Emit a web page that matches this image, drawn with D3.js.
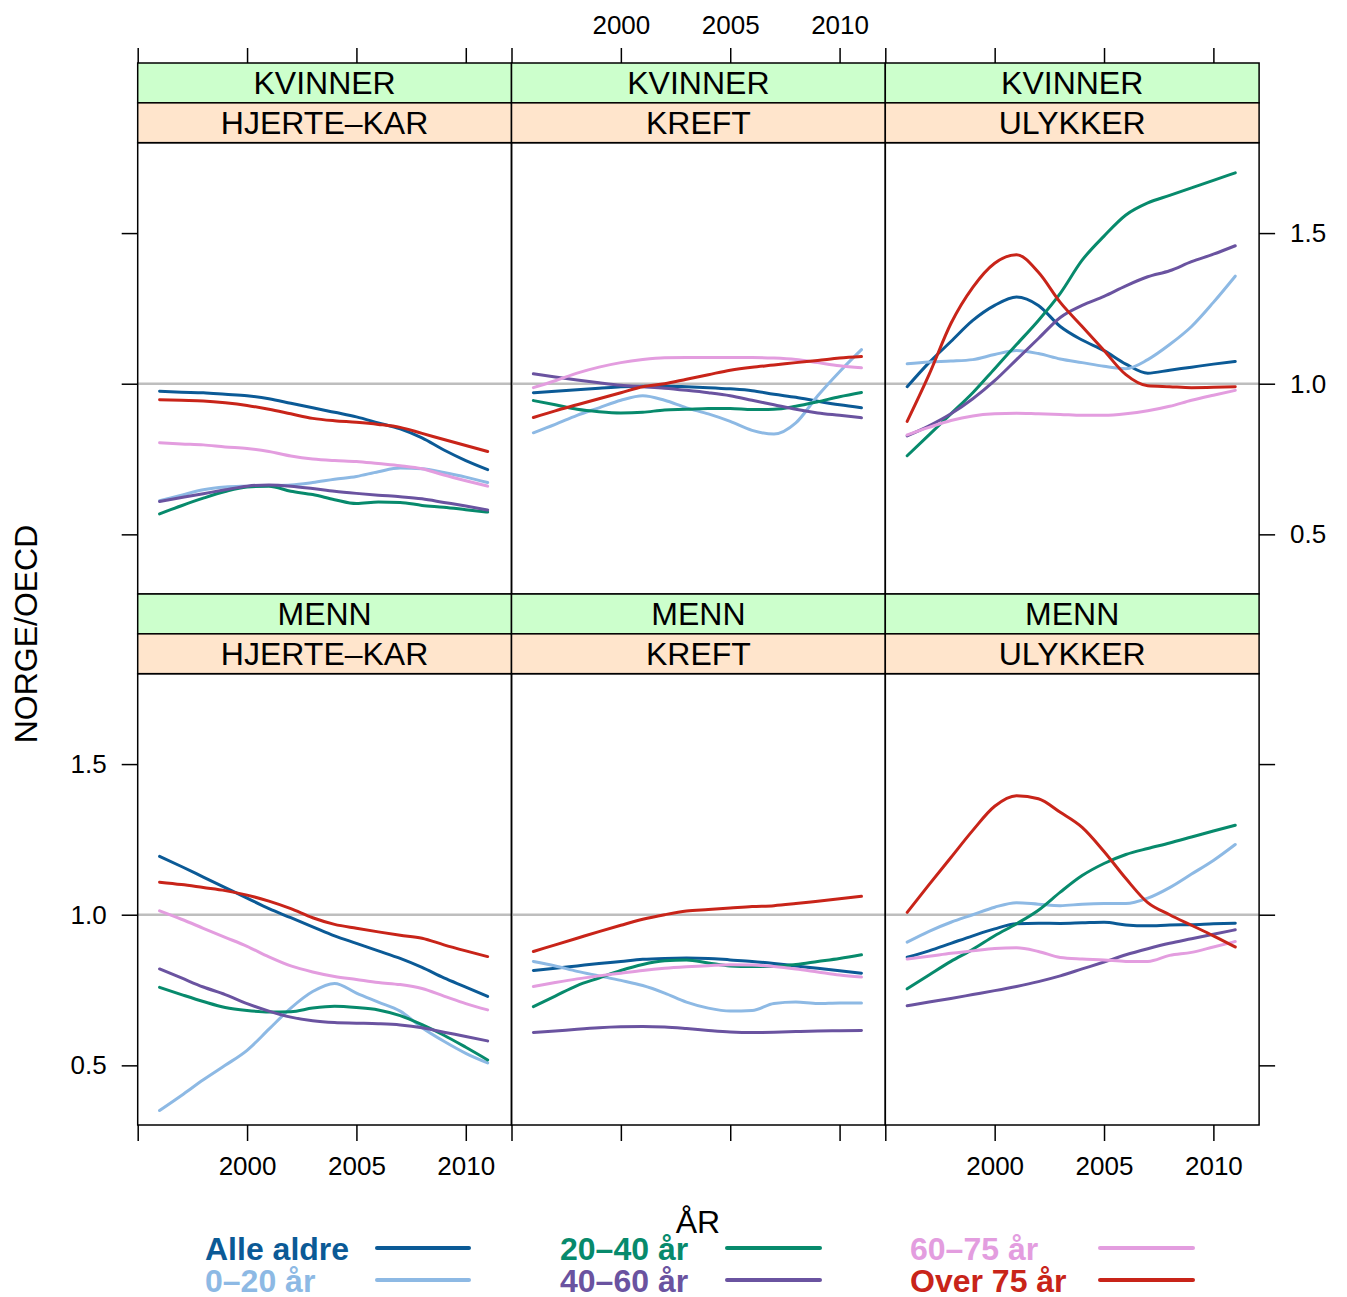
<!DOCTYPE html>
<html><head><meta charset="utf-8">
<script src="https://cdn.jsdelivr.net/npm/d3@7"></script>
<style>body{margin:0;background:#fff} text{font-family:"Liberation Sans",Arial,Helvetica,sans-serif}</style>
</head><body><svg id="c" width="1347" height="1297"></svg>
<script>
const years = [1996,1997,1998,1999,2000,2001,2002,2003,2004,2005,2006,2007,2008,2009,2010,2011];
const seriesNames = ["Alle aldre","0–20 år","20–40 år","40–60 år","60–75 år","Over 75 år"];
const seriesColors = ["#0b5a96","#8db9e4","#078a6c","#6a53a0","#e39ddf","#c82419"];
const sexLabels = ["KVINNER","MENN"];
const causeLabels = ["HJERTE–KAR","KREFT","ULYKKER"];
const xTicks = [1995,2000,2005,2010];
const xTickLabels = ["","2000","2005","2010"];
const yTicks = [0.5,1.0,1.5];
const yTickLabels = ["0.5","1.0","1.5"];
const refValue = 1.0;

// order of series in each panel: Alle aldre, 0–20, 20–40, 40–60, 60–75, Over 75
const kvinnerHjerteKar = [
  [0.975,0.972,0.970,0.965,0.960,0.950,0.935,0.920,0.905,0.890,0.870,0.850,0.820,0.780,0.745,0.715],
  [0.612,0.630,0.648,0.657,0.660,0.662,0.664,0.672,0.683,0.692,0.708,0.720,0.718,0.705,0.690,0.672],
  [0.568,0.595,0.620,0.642,0.657,0.660,0.643,0.632,0.615,0.602,0.607,0.606,0.596,0.590,0.582,0.574],
  [0.609,0.622,0.635,0.648,0.660,0.664,0.660,0.652,0.643,0.636,0.630,0.625,0.618,0.606,0.594,0.581],
  [0.804,0.800,0.797,0.790,0.785,0.775,0.760,0.750,0.745,0.742,0.735,0.728,0.718,0.697,0.678,0.660],
  [0.947,0.945,0.943,0.937,0.928,0.915,0.900,0.885,0.877,0.872,0.865,0.855,0.835,0.815,0.795,0.775]
];
const kvinnerKreft = [
  [0.970,0.975,0.980,0.985,0.990,0.992,0.992,0.990,0.987,0.983,0.977,0.965,0.955,0.942,0.930,0.920],
  [0.837,0.865,0.895,0.920,0.945,0.960,0.945,0.920,0.900,0.875,0.845,0.833,0.870,0.960,1.040,1.113],
  [0.944,0.930,0.915,0.907,0.903,0.905,0.913,0.915,0.918,0.918,0.914,0.915,0.925,0.940,0.957,0.971],
  [1.033,1.022,1.012,1.003,0.995,0.990,0.985,0.978,0.970,0.960,0.945,0.930,0.915,0.903,0.895,0.887],
  [0.987,1.010,1.035,1.055,1.070,1.080,1.086,1.087,1.087,1.087,1.087,1.085,1.080,1.070,1.060,1.053],
  [0.888,0.910,0.930,0.950,0.970,0.990,1.000,1.015,1.030,1.045,1.055,1.062,1.070,1.077,1.085,1.090]
];
const kvinnerUlykker = [
  [0.990,1.070,1.140,1.210,1.260,1.288,1.260,1.190,1.145,1.110,1.065,1.035,1.045,1.055,1.065,1.074],
  [1.066,1.072,1.075,1.080,1.097,1.110,1.100,1.082,1.070,1.058,1.050,1.080,1.130,1.190,1.270,1.357],
  [0.761,0.830,0.900,0.970,1.050,1.130,1.210,1.300,1.410,1.490,1.560,1.600,1.625,1.650,1.675,1.700],
  [0.827,0.860,0.900,0.950,1.010,1.080,1.150,1.220,1.260,1.290,1.325,1.355,1.375,1.405,1.430,1.458],
  [0.830,0.855,0.878,0.893,0.900,0.902,0.900,0.898,0.895,0.895,0.900,0.910,0.925,0.945,0.962,0.978],
  [0.875,1.030,1.200,1.320,1.400,1.428,1.370,1.270,1.190,1.110,1.030,0.993,0.990,0.987,0.988,0.990]
];
const mennHjerteKar = [
  [1.194,1.160,1.125,1.090,1.055,1.020,0.990,0.960,0.930,0.905,0.880,0.855,0.825,0.790,0.760,0.729],
  [0.350,0.400,0.452,0.500,0.550,0.620,0.690,0.745,0.772,0.740,0.710,0.680,0.625,0.580,0.540,0.508],
  [0.759,0.735,0.712,0.692,0.682,0.677,0.678,0.690,0.696,0.692,0.684,0.665,0.635,0.600,0.560,0.518],
  [0.820,0.790,0.760,0.735,0.705,0.680,0.660,0.648,0.642,0.640,0.638,0.634,0.625,0.610,0.596,0.581],
  [1.013,0.985,0.955,0.925,0.895,0.860,0.830,0.810,0.795,0.785,0.775,0.768,0.755,0.730,0.705,0.684],
  [1.108,1.100,1.090,1.080,1.065,1.045,1.020,0.990,0.968,0.955,0.943,0.932,0.922,0.900,0.880,0.861]
];
const mennKreft = [
  [0.815,0.822,0.830,0.838,0.845,0.852,0.855,0.856,0.855,0.850,0.845,0.838,0.830,0.822,0.814,0.806],
  [0.845,0.830,0.812,0.797,0.782,0.765,0.740,0.710,0.690,0.680,0.682,0.705,0.710,0.705,0.707,0.707],
  [0.695,0.730,0.765,0.790,0.815,0.835,0.847,0.850,0.840,0.830,0.828,0.828,0.835,0.845,0.855,0.867],
  [0.609,0.614,0.620,0.625,0.628,0.629,0.627,0.622,0.616,0.611,0.609,0.610,0.612,0.614,0.615,0.616],
  [0.762,0.775,0.787,0.797,0.806,0.815,0.822,0.827,0.831,0.834,0.833,0.828,0.820,0.810,0.800,0.793],
  [0.878,0.900,0.922,0.944,0.965,0.985,1.000,1.012,1.017,1.022,1.027,1.030,1.037,1.045,1.053,1.061]
];
const mennUlykker = [
  [0.859,0.880,0.905,0.930,0.953,0.970,0.972,0.971,0.973,0.975,0.966,0.963,0.966,0.967,0.970,0.972],
  [0.909,0.945,0.975,1.000,1.025,1.040,1.035,1.030,1.035,1.037,1.037,1.055,1.090,1.135,1.180,1.233],
  [0.754,0.800,0.845,0.885,0.930,0.970,1.015,1.075,1.130,1.170,1.200,1.220,1.238,1.258,1.278,1.297],
  [0.698,0.710,0.722,0.735,0.748,0.762,0.778,0.797,0.820,0.843,0.867,0.887,0.905,0.920,0.935,0.950],
  [0.853,0.862,0.872,0.880,0.888,0.890,0.878,0.858,0.853,0.850,0.845,0.845,0.865,0.875,0.893,0.911],
  [1.008,1.100,1.190,1.280,1.360,1.395,1.385,1.340,1.290,1.210,1.120,1.040,1.000,0.965,0.930,0.893]
];
const panelData = [
  [kvinnerHjerteKar, kvinnerKreft, kvinnerUlykker],
  [mennHjerteKar, mennKreft, mennUlykker]
];

// ---- layout ----
const svg = d3.select("#c");
const left = 137.7, colW = 373.8, stripTop = 63, stripH = 39.85, plotH = 451.3;
const rowH = 2*stripH + plotH;
const x = d3.scaleLinear().domain([1995, 2012.09]).range([0, colW]);
const y = d3.scaleLinear().domain([0.302, 1.80]).range([plotH, 0]);
const line = d3.line().x((d,i)=>x(years[i])).y(d=>y(d)).curve(d3.curveMonotoneX);

for (let r = 0; r < 2; r++) {
  for (let c = 0; c < 3; c++) {
    const g0 = svg.append("g").attr("transform", `translate(${left + c*colW},${stripTop + r*rowH})`);
    g0.append("rect").attr("x",0).attr("y",0).attr("width",colW).attr("height",stripH)
      .attr("fill","#CCFFCC").attr("stroke","#000").attr("stroke-width",1.5);
    g0.append("rect").attr("x",0).attr("y",stripH).attr("width",colW).attr("height",stripH)
      .attr("fill","#FFE5CC").attr("stroke","#000").attr("stroke-width",1.5);
    g0.append("text").attr("x",colW/2).attr("y",stripH/2+11.5).attr("text-anchor","middle")
      .attr("font-size",32).text(sexLabels[r]);
    g0.append("text").attr("x",colW/2).attr("y",stripH*1.5+11.5).attr("text-anchor","middle")
      .attr("font-size",32).text(causeLabels[c]);

    const g = svg.append("g").attr("transform", `translate(${left + c*colW},${stripTop + r*rowH + 2*stripH})`);
    g.append("line").attr("x1",0).attr("x2",colW).attr("y1",y(refValue)).attr("y2",y(refValue))
      .attr("stroke","#BEBEBE").attr("stroke-width",2.5);
    panelData[r][c].forEach((vals, s) => {
      g.append("path").datum(vals).attr("d", line).attr("fill","none")
        .attr("stroke", seriesColors[s]).attr("stroke-width",3).attr("stroke-linecap","round");
    });
    g.append("rect").attr("x",0).attr("y",0).attr("width",colW).attr("height",plotH)
      .attr("fill","none").attr("stroke","#000").attr("stroke-width",1.5);

    // x axes
    if (r === 0) {
      const ax = d3.axisTop(x).tickValues(xTicks).tickSize(15).tickPadding(14)
        .tickFormat((d,i) => c === 1 ? xTickLabels[i] : "");
      const ga = svg.append("g").attr("transform", `translate(${left + c*colW},${stripTop})`).call(ax);
      styleAxis(ga);
    } else {
      const ax = d3.axisBottom(x).tickValues(xTicks).tickSize(16).tickPadding(16)
        .tickFormat((d,i) => c !== 1 ? xTickLabels[i] : "");
      const ga = svg.append("g").attr("transform", `translate(${left + c*colW},${stripTop + r*rowH + 2*stripH + plotH})`).call(ax);
      styleAxis(ga);
    }
  }
  // y axes
  const yOff = stripTop + r*rowH + 2*stripH;
  const axL = d3.axisLeft(y).tickValues(yTicks).tickSize(16).tickPadding(15)
    .tickFormat((d,i) => r === 1 ? yTickLabels[i] : "");
  styleAxis(svg.append("g").attr("transform", `translate(${left},${yOff})`).call(axL));
  const axR = d3.axisRight(y).tickValues(yTicks).tickSize(16).tickPadding(15)
    .tickFormat((d,i) => r === 0 ? yTickLabels[i] : "");
  styleAxis(svg.append("g").attr("transform", `translate(${left + 3*colW},${yOff})`).call(axR));
}

function styleAxis(ga) {
  ga.select(".domain").remove();
  ga.selectAll(".tick line").attr("stroke","#000").attr("stroke-width",1.5);
  ga.selectAll(".tick text").attr("font-size",26).attr("fill","#000")
    .attr("font-family",'"Liberation Sans",Arial,sans-serif');
}

// axis titles
svg.append("text").attr("x",698).attr("y",1233).attr("text-anchor","middle").attr("font-size",32).text("ÅR");
svg.append("text").attr("transform","translate(37,634) rotate(-90)").attr("text-anchor","middle")
  .attr("font-size",32).text("NORGE/OECD");

// legend
const legTextX = [205, 560, 910];
const legLineX = [[377,469],[727,820],[1100,1193]];
const legBase = [1260, 1292];
const legLineY = [1248, 1280];
seriesNames.forEach((name, i) => {
  const col = Math.floor(i/2), row = i % 2;
  svg.append("text").attr("x",legTextX[col]).attr("y",legBase[row]).attr("font-size",32)
    .attr("font-weight","bold").attr("fill",seriesColors[i]).text(name);
  svg.append("line").attr("x1",legLineX[col][0]).attr("x2",legLineX[col][1])
    .attr("y1",legLineY[row]).attr("y2",legLineY[row])
    .attr("stroke",seriesColors[i]).attr("stroke-width",4).attr("stroke-linecap","round");
});
</script></body></html>
